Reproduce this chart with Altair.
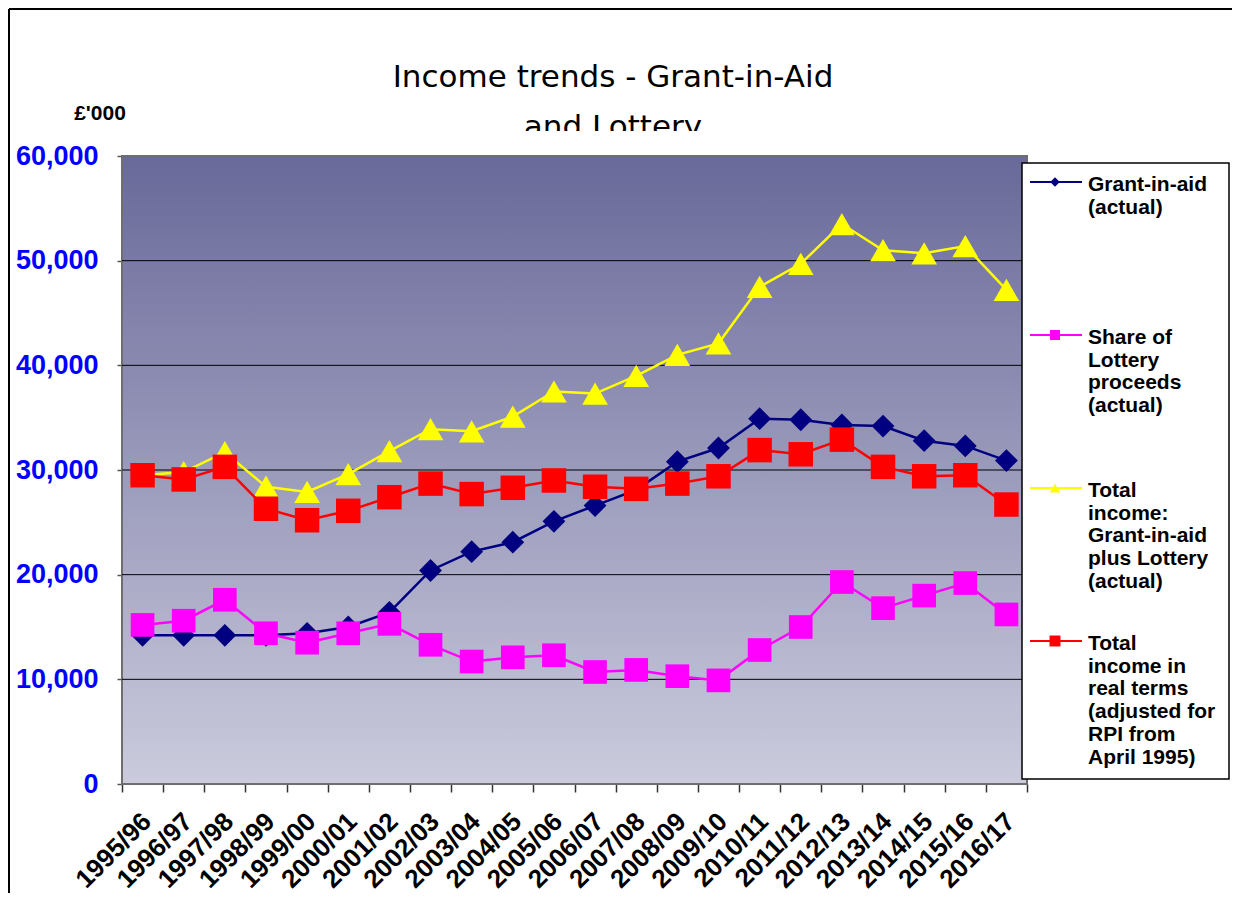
import altair as alt
import pandas as pd

categories = ["1995/96", "1996/97", "1997/98", "1998/99", "1999/00", "2000/01",
              "2001/02", "2002/03", "2003/04", "2004/05", "2005/06", "2006/07",
              "2007/08", "2008/09", "2009/10", "2010/11", "2011/12", "2012/13",
              "2013/14", "2014/15", "2015/16", "2016/17"]

grant = [14200, 14200, 14200, 14200, 14400, 15000, 16400, 20400, 22200, 23100, 25100,
         26600, 28100, 30800, 32100, 34900, 34800, 34300, 34200, 32800, 32300, 30900]
lottery = [15200, 15600, 17600, 14400, 13500, 14400, 15300, 13300, 11700, 12100, 12300,
           10700, 10900, 10300, 9900, 12800, 15000, 19300, 16800, 18000, 19200, 16200]
total = [29500, 29800, 31700, 28400, 27900, 29600, 31800, 33900, 33700, 35100, 37500,
         37300, 39000, 41000, 42100, 47500, 49700, 53500, 51000, 50700, 51400, 47200]
real = [29500, 29100, 30300, 26300, 25200, 26100, 27400, 28700, 27700, 28300, 29000,
        28400, 28200, 28700, 29400, 31900, 31500, 32900, 30300, 29400, 29500, 26700]

series_names = ["Grant-in-aid (actual)", "Share of Lottery proceeds (actual)",
                "Total income: Grant-in-aid plus Lottery (actual)",
                "Total income in real terms (adjusted for RPI from April 1995)"]
legend_labels = ["Grant-in-aid\n(actual)",
                 "Share of\nLottery\nproceeds\n(actual)",
                 "Total\nincome:\nGrant-in-aid\nplus Lottery\n(actual)",
                 "Total\nincome in\nreal terms\n(adjusted for\nRPI from\nApril 1995)"]
colors = ["#000080", "#ff00ff", "#ffff00", "#ff0000"]
shapes = ["diamond", "square", "triangle-up", "square"]
marker_sizes = [520, 560, 660, 600]
legend_sizes = [90, 120, 110, 120]
grid_values = [10000, 20000, 30000, 40000, 50000]
y_ticks = [0, 10000, 20000, 30000, 40000, 50000, 60000]

series_values = [grant, lottery, total, real]

W, H = 905, 628
FONT = "Liberation Sans, Arial, sans-serif"
TFONT = "DejaVu Sans, Verdana, sans-serif"

rows = []
for name, vals in zip(series_names, series_values):
    for cat, v in zip(categories, vals):
        rows.append({"year": cat, "series": name, "value": v})
df = pd.DataFrame(rows)

one = pd.DataFrame({"k": [0]})

x_enc = alt.X("year:N", sort=categories,
              scale=alt.Scale(type="band", domain=categories, paddingInner=0, paddingOuter=0),
              axis=alt.Axis(title=None, domain=False, tickBand="extent", tickSize=8,
                            tickColor="#333333", tickWidth=1.5,
                            labelAngle=-45, labelAlign="right", labelBaseline="middle",
                            labelFont=FONT, labelFontSize=26, labelFontWeight="bold",
                            labelColor="black", labelPadding=25, labelOffset=4))
y_enc = alt.Y("value:Q", scale=alt.Scale(domain=[0, 60000], nice=False, zero=True),
              axis=alt.Axis(title=None, domain=False, grid=False, values=y_ticks,
                            format=",.0f", tickSize=5, tickColor="#555555", tickWidth=1.5,
                            labelFont=FONT, labelFontSize=27, labelFontWeight="bold",
                            labelColor="#0000ff", labelPadding=19))

gradient = alt.LinearGradient(gradient="linear",
                              stops=[alt.GradientStop(color="#69699a", offset=0),
                                     alt.GradientStop(color="#cbcbdd", offset=1)],
                              x1=0, x2=0, y1=0, y2=1)

bg = alt.Chart(one).mark_rect(fill=gradient, stroke="#6e6e6e", strokeWidth=2).encode(
    x=alt.value(0), x2=alt.value(W), y=alt.value(0), y2=alt.value(H))

grid = alt.Chart(pd.DataFrame({"value": grid_values})).mark_rule(
    color="black", strokeWidth=1).encode(y=alt.Y("value:Q", title=None))

layers = [bg, grid]
for i, name in enumerate(series_names):
    sub = df[df["series"] == name]
    xe = x_enc if i == 0 else alt.X("year:N", sort=categories, title=None)
    ye = y_enc if i == 0 else alt.Y("value:Q", title=None)
    line = alt.Chart(sub).mark_line(color=colors[i], strokeWidth=2.5).encode(x=xe, y=ye)
    pts = alt.Chart(sub).mark_point(filled=True, opacity=1, color=colors[i],
                                    shape=shapes[i], size=marker_sizes[i]).encode(
        x=alt.X("year:N", sort=categories, title=None), y=alt.Y("value:Q", title=None))
    layers += [line, pts]

title1 = alt.Chart(one).mark_text(text="Income trends - Grant-in-Aid", font=TFONT,
                                  fontSize=31, align="center", baseline="alphabetic",
                                  color="black").encode(x=alt.value(491), y=alt.value(-69))
title2 = alt.Chart(one).mark_text(text="and Lottery", font=TFONT,
                                  fontSize=31, align="center", baseline="alphabetic",
                                  color="black").encode(x=alt.value(491), y=alt.value(-19))
cover = alt.Chart(one).mark_rect(fill="white").encode(
    x=alt.value(360), x2=alt.value(640), y=alt.value(-25), y2=alt.value(-3))
unit = alt.Chart(one).mark_text(text="£'000", font=FONT, fontSize=21, fontWeight="bold",
                                align="center", baseline="middle", color="black").encode(
    x=alt.value(-22), y=alt.value(-42))
frame_left = alt.Chart(one).mark_rule(color="black", strokeWidth=2).encode(
    x=alt.value(-113), y=alt.value(-147), y2=alt.value(737))
frame_top = alt.Chart(one).mark_rule(color="black", strokeWidth=2).encode(
    x=alt.value(-113), x2=alt.value(1110), y=alt.value(-147))

main = alt.layer(*layers, title1, title2, cover, unit, frame_left, frame_top)

leg_df = pd.DataFrame({"series": series_names, "label": legend_labels})
leg_y = alt.Y("series:N", scale=alt.Scale(type="point", domain=series_names, range=[26, 485], padding=0),
              axis=None)
leg_color = alt.Color("series:N", scale=alt.Scale(domain=series_names, range=colors), legend=None)
leg_shape = alt.Shape("series:N", scale=alt.Scale(domain=series_names, range=shapes), legend=None)
leg_size = alt.Size("series:N", scale=alt.Scale(domain=series_names, range=legend_sizes), legend=None)

leg_box = alt.Chart(one).mark_rect(fill="white", stroke="black", strokeWidth=1.5).encode(
    x=alt.value(900), x2=alt.value(1107), y=alt.value(7), y2=alt.value(623))
leg_rule = alt.Chart(leg_df).mark_rule(strokeWidth=2).encode(
    x=alt.value(908), x2=alt.value(960), y=leg_y, color=leg_color)
leg_pt = alt.Chart(leg_df).mark_point(filled=True, opacity=1).encode(
    x=alt.value(933), y=alt.Y("series:N", axis=None), color=leg_color, shape=leg_shape, size=leg_size)
leg_text = alt.Chart(leg_df).mark_text(lineBreak="\n", lineHeight=22.7, align="left", baseline="top",
                                       dy=-8, font=FONT, fontSize=21, fontWeight="bold",
                                       color="black").encode(
    x=alt.value(966), y=alt.Y("series:N", axis=None), text="label:N")

legend = alt.layer(leg_box, leg_rule, leg_pt, leg_text)

chart = alt.layer(main, legend).resolve_scale(y="independent").properties(
    width=W, height=H, padding=0, background="white"
).configure_view(stroke=None)

chart.save("out.html", embed_options={"renderer": "svg", "actions": False})
